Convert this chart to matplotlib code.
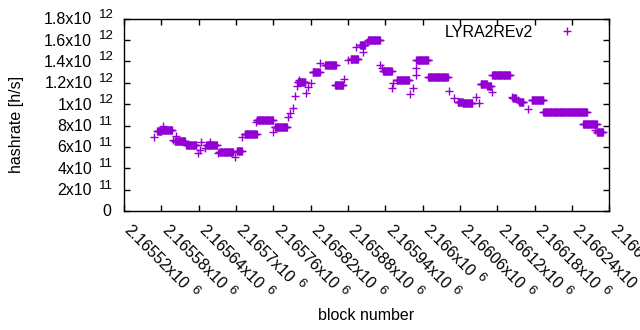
import numpy as np
import matplotlib
matplotlib.use("Agg")
import matplotlib.pyplot as plt
from matplotlib.transforms import offset_copy

plt.rcParams['font.family'] = ['Liberation Sans', 'DejaVu Sans']

# hashrate runs: first block, last block, hashrate (x1e11 h/s)
run_start = [2165568, 2165573, 2165583, 2165580, 2165598, 2165603, 2165601, 2165620,
             2165639, 2165642, 2165644, 2165650, 2165652, 2165658, 2165671, 2165673,
             2165698, 2165701, 2165709, 2165714, 2165732, 2165733, 2165759, 2165762,
             2165783, 2165786, 2165792, 2165795, 2165798, 2165799, 2165801, 2165812,
             2165815, 2165821, 2165823, 2165835, 2165835, 2165843, 2165859, 2165874,
             2165880, 2165884, 2165893, 2165899, 2165904, 2165910, 2165912, 2165931,
             2165934, 2165936, 2165950, 2165952, 2165958, 2165979, 2165984, 2165989,
             2165990, 2165990, 2166009, 2166043, 2166051, 2166056, 2166064, 2166085,
             2166091, 2166093, 2166104, 2166112, 2166112, 2166143, 2166145, 2166153,
             2166155, 2166170, 2166175, 2166194, 2166258, 2166277, 2166280]
run_end = [2165568, 2165580, 2165583, 2165597, 2165598, 2165603, 2165618, 2165636,
           2165639, 2165642, 2165644, 2165650, 2165669, 2165658, 2165671, 2165695,
           2165698, 2165709, 2165709, 2165733, 2165732, 2165759, 2165759, 2165782,
           2165783, 2165786, 2165792, 2165795, 2165798, 2165811, 2165801, 2165812,
           2165815, 2165821, 2165833, 2165835, 2165835, 2165860, 2165872, 2165874,
           2165880, 2165896, 2165893, 2165907, 2165904, 2165910, 2165931, 2165931,
           2165934, 2165950, 2165950, 2165952, 2165978, 2165979, 2165984, 2165989,
           2165990, 2166009, 2166040, 2166043, 2166051, 2166064, 2166080, 2166085,
           2166091, 2166103, 2166110, 2166112, 2166140, 2166143, 2166150, 2166153,
           2166162, 2166170, 2166194, 2166264, 2166280, 2166277, 2166290]
run_value = [6.94, 7.45, 7.97, 7.6, 6.66, 7.0, 6.55, 6.19,
             5.41, 5.72, 6.5, 5.88, 6.2, 6.5, 5.41, 5.56,
             5.09, 5.62, 6.91, 7.22, 8.37, 8.53, 7.43, 7.87,
             8.84, 9.19, 9.63, 10.78, 11.72, 12.09, 12.28, 11.09,
             11.65, 11.97, 12.98, 13.85, 13.06, 13.64, 11.77, 12.35,
             14.16, 14.25, 15.4, 15.56, 14.93, 15.87, 15.98, 13.69,
             13.38, 13.12, 11.5, 11.97, 12.28, 10.97, 11.5, 12.75,
             13.38, 14.11, 12.52, 11.28, 10.57, 10.22, 10.1, 10.66,
             10.15, 11.9, 11.7, 11.18, 12.7, 10.66, 10.6, 10.41,
             10.25, 9.53, 10.36, 9.31, 8.11, 7.59, 7.36]

# one point per block inside each run
blocks = []
hashrate = []
for s, e, v in zip(run_start, run_end, run_value):
    b = np.arange(s, e + 1)
    blocks.extend(b)
    hashrate.extend([v * 1e11] * len(b))

x_ticks = np.arange(2165520, 2166301, 60)
y_ticks = np.arange(0, 1.81e12, 2e11)

FS = 11.5     # main font size
FS_SUP = 9.5  # exponent font size


def split_y(v):
    if v == 0:
        return '0', ''
    exp = int(np.floor(np.log10(v) + 1e-9))
    m = round(v / 10 ** exp, 1)
    return '%gx10' % m, str(exp)


def split_x(v):
    return '%.6gx10' % (v / 1e6), '6'


fig = plt.figure(figsize=(6.4, 3.3), dpi=100)
ax = fig.add_axes([0.194, 0.361, 0.758, 0.582])
ax.plot(blocks, hashrate, '+', color='#9400D3', markersize=5.5, markeredgewidth=1.0,
        label='LYRA2REv2')
ax.set_xlim(2165520, 2166300)
ax.set_ylim(0, 1.8e12)
ax.set_xticks(x_ticks)
ax.set_yticks(y_ticks)
ax.set_xticklabels([])
ax.set_yticklabels([])
ax.tick_params(direction='in', length=4, width=1, top=True, right=True)
for sp in ax.spines.values():
    sp.set_linewidth(1)

renderer = fig.canvas.get_renderer()


def text_width(s, size):
    t = fig.text(0, 0, s, fontsize=size)
    w = t.get_window_extent(renderer).width
    t.remove()
    return w


# y tick labels, gnuplot style "8x10^11"
ytrans = ax.get_yaxis_transform()
for v in y_ticks:
    base, sup = split_y(v)
    if sup == '':
        ax.text(0, v, base, fontsize=FS, ha='right', va='center',
                transform=offset_copy(ytrans, fig=fig, x=-13, y=-1, units='dots'))
        continue
    ax.text(0, v, base, fontsize=FS, ha='right', va='center',
            transform=offset_copy(ytrans, fig=fig, x=-32, y=-1, units='dots'))
    ax.text(0, v, sup, fontsize=FS_SUP, ha='left', va='center',
            transform=offset_copy(ytrans, fig=fig, x=-25, y=4, units='dots'))

# x tick labels rotated by -45 degrees
xtrans = ax.get_xaxis_transform()
along = np.array([np.cos(np.radians(-45)), np.sin(np.radians(-45))])
up = np.array([-along[1], along[0]])
x0, y0 = 8, -12
for v in x_ticks:
    base, sup = split_x(v)
    ax.text(v, 0, base, fontsize=FS, rotation=-45, ha='left', va='top',
            rotation_mode='anchor',
            transform=offset_copy(xtrans, fig=fig, x=x0, y=y0, units='dots'))
    d = text_width(base, FS) + 5
    p = np.array([x0, y0]) + along * d + up * 3
    ax.text(v, 0, sup, fontsize=FS_SUP, rotation=-45, ha='left', va='top',
            rotation_mode='anchor',
            transform=offset_copy(xtrans, fig=fig, x=p[0], y=p[1], units='dots'))

fig.text(366 / 640, 1 - 316 / 330, 'block number', fontsize=FS, ha='center', va='center')
fig.text(17 / 640, 1 - 124 / 330, 'hashrate [h/s]', fontsize=FS, ha='center',
         va='center', rotation=90)

ax.legend(loc='upper right', bbox_to_anchor=(0.959, 1.002), borderaxespad=0,
          frameon=False, fontsize=FS, markerfirst=False, handletextpad=1.1,
          handlelength=2.0)

fig.savefig('out.png')
